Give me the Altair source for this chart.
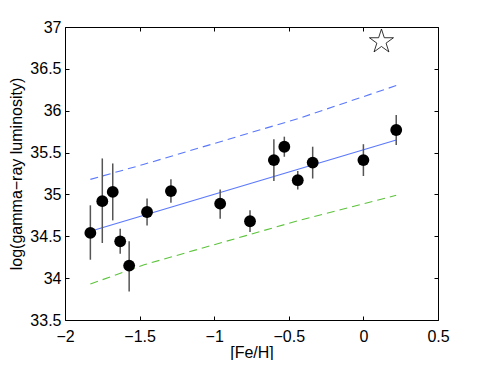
import math
import altair as alt
import pandas as pd

# ---- data ----
feh = [-1.83, -1.75, -1.68, -1.63, -1.57, -1.45, -1.29, -0.96, -0.76, -0.60, -0.53, -0.44, -0.34, 0.00, 0.22]
lum = [34.54, 34.92, 35.03, 34.44, 34.15, 34.79, 35.04, 34.89, 34.68, 35.41, 35.57, 35.17, 35.38, 35.41, 35.77]
err_hi = [34.87, 35.43, 35.37, 34.59, 34.44, 34.95, 35.18, 35.06, 34.81, 35.66, 35.69, 35.28, 35.57, 35.60, 35.95]
err_lo = [34.22, 34.42, 34.69, 34.29, 33.84, 34.63, 34.90, 34.71, 34.55, 35.16, 35.45, 35.06, 35.19, 35.22, 35.59]

fit_x = [-1.83, 0.22]
fit_y = [34.56, 35.65]
band_x = [-1.83, -1.47, -0.43, 0.22]
band_upper = [35.18, 35.36, 35.91, 36.30]
band_lower = [33.93, 34.16, 34.69, 34.99]

star_x = [0.121]
star_y = [36.825]

x_ticks = [-2, -1.5, -1, -0.5, 0, 0.5]
y_ticks = [33.5, 34, 34.5, 35, 35.5, 36, 36.5, 37]

W, H = 373, 293

pts = pd.DataFrame({"feh": feh, "lum": lum, "lo": err_lo, "hi": err_hi})
fit_df = pd.DataFrame({"feh": fit_x, "lum": fit_y})
up_df = pd.DataFrame({"feh": band_x, "lum": band_upper})
lo_df = pd.DataFrame({"feh": band_x, "lum": band_lower})
star = pd.DataFrame({"feh": star_x, "lum": star_y})

# pentagram marker outline (shape only)
pts_path = []
for k in range(10):
    r = 1.0 if k % 2 == 0 else 0.382
    a = math.radians(-90 + 36 * k)
    pts_path.append(f"{r * math.cos(a):.4f},{r * math.sin(a):.4f}")
STAR_PATH = "M" + " L".join(pts_path) + " Z"

xs = alt.Scale(domain=[-2, 0.5], nice=False, zero=False)
ys = alt.Scale(domain=[33.5, 37], nice=False, zero=False)

font = "Liberation Sans"
inward = alt.ExprRef("-4")

ax_bottom = alt.Axis(orient="bottom", values=x_ticks, format="~g", ticks=True, tickSize=inward, tickColor="black",
                     domain=False, grid=False,
                     labelFontSize=16, labelPadding=12, labelColor="black", title="[Fe/H]",
                     titleFontSize=16, titleFontWeight="normal", titleColor="black", titlePadding=0,
                     labelFont=font, titleFont=font, labelFlush=False)
ax_left = alt.Axis(orient="left", values=y_ticks, format="~g", ticks=True, tickSize=inward, tickColor="black",
                   domain=False, grid=False,
                   labelFontSize=16, labelPadding=8, labelColor="black", title="log(gamma−ray luminosity)",
                   titleFontSize=16, titleFontWeight="normal", titleColor="black", titlePadding=5,
                   labelFont=font, titleFont=font, labelFlush=False)
ax_top = alt.Axis(orient="top", values=x_ticks, labels=False, ticks=True, tickSize=inward, tickColor="black",
                  domain=False, grid=False, title=None)
ax_right = alt.Axis(orient="right", values=y_ticks, labels=False, ticks=True, tickSize=inward, tickColor="black",
                    domain=False, grid=False, title=None)

fit_layer = alt.Chart(fit_df).mark_line(strokeWidth=1.1, color="#5a78ff").encode(
    x=alt.X("feh:Q", scale=xs, axis=ax_bottom),
    y=alt.Y("lum:Q", scale=ys, axis=ax_left),
)
up_layer = alt.Chart(up_df).mark_line(strokeWidth=1.1, color="#5a78ff", strokeDash=[8, 5]).encode(
    x=alt.X("feh:Q", scale=xs, axis=None),
    y=alt.Y("lum:Q", scale=ys, axis=None),
)
lo_layer = alt.Chart(lo_df).mark_line(strokeWidth=1.1, color="#5cc43c", strokeDash=[8, 5]).encode(
    x=alt.X("feh:Q", scale=xs, axis=None),
    y=alt.Y("lum:Q", scale=ys, axis=None),
)

err_layer = alt.Chart(pts).mark_rule(color="#555555", strokeWidth=1.5).encode(
    x=alt.X("feh:Q", scale=xs, axis=None),
    y=alt.Y("lo:Q", scale=ys, axis=None),
    y2="hi:Q",
)

pt_layer = alt.Chart(pts).mark_point(filled=True, shape="circle", size=140, color="black", opacity=1).encode(
    x=alt.X("feh:Q", scale=xs, axis=None),
    y=alt.Y("lum:Q", scale=ys, axis=None),
)

star_layer = alt.Chart(star).mark_point(shape=STAR_PATH, filled=False, size=640, color="black",
                                        strokeWidth=0.8, opacity=1).encode(
    x=alt.X("feh:Q", scale=xs, axis=ax_top),
    y=alt.Y("lum:Q", scale=ys, axis=ax_right),
)

chart = alt.layer(fit_layer, up_layer, lo_layer, err_layer, pt_layer, star_layer).resolve_axis(
    x="independent", y="independent"
).properties(
    width=W, height=H,
    padding={"left": 0, "top": 11, "right": 0, "bottom": 0},
).configure_view(stroke="black", strokeWidth=1)

chart.save("out.html", embed_options={"renderer": "svg", "actions": False})
